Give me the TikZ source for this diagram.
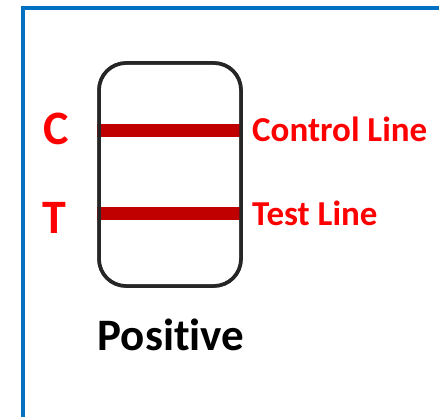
\documentclass[tikz,border=0pt]{standalone}
\usepackage{fontspec}
\setmainfont{Carlito}[Ligatures=NoCommon]
\usepackage{tikz}
\usetikzlibrary{positioning,calc}
\definecolor{frameblue}{RGB}{0,112,192}
\definecolor{banddark}{RGB}{192,0,0}
\definecolor{stripgray}{RGB}{38,38,38}
\tikzset{
  stripbox/.style={draw=stripgray, line width=3.5pt, rounded corners=27pt,
    minimum width=142pt, minimum height=223pt, inner sep=0pt},
  bandline/.style={draw=banddark, line width=13pt},
  letterlabel/.style={text=red, font=\fontsize{48}{52}\selectfont\bfseries, inner sep=0pt},
  linelabel/.style={text=red, font=\fontsize{35}{38}\selectfont\bfseries, inner sep=0pt},
  resultlabel/.style={font=\fontsize{45}{50}\selectfont\bfseries, inner sep=0pt},
}

\begin{document}
\begin{tikzpicture}[x=1pt, y=-1pt]
  \useasboundingbox (0,0) rectangle (439,417);
  % frame
  \draw[frameblue, line width=4pt] (23,8) rectangle (445,418.5);
  % strip
  \node[stripbox] (strip) at (170,174.5) {};
  \coordinate (cband) at (170,130.5);
  \coordinate (tband) at (170,213.5);
  \draw[bandline] (cband -| strip.west) -- (cband -| strip.east);
  \draw[bandline] (tband -| strip.west) -- (tband -| strip.east);
  \node[stripbox] at (strip.center) {};
  % labels
  \node[letterlabel, anchor=base] (clet) at (56,144.5) {C};
  \node[letterlabel, anchor=base] (tlet) at (54,233) {T};
  \node[linelabel, anchor=base west] (clab) at (252,142) {Control Line};
  \node[linelabel, anchor=base west] (tlab) at (252,225) {Test Line};
  \node[resultlabel, anchor=base] (result) at (171,350) {Positive};
\end{tikzpicture}
\end{document}
